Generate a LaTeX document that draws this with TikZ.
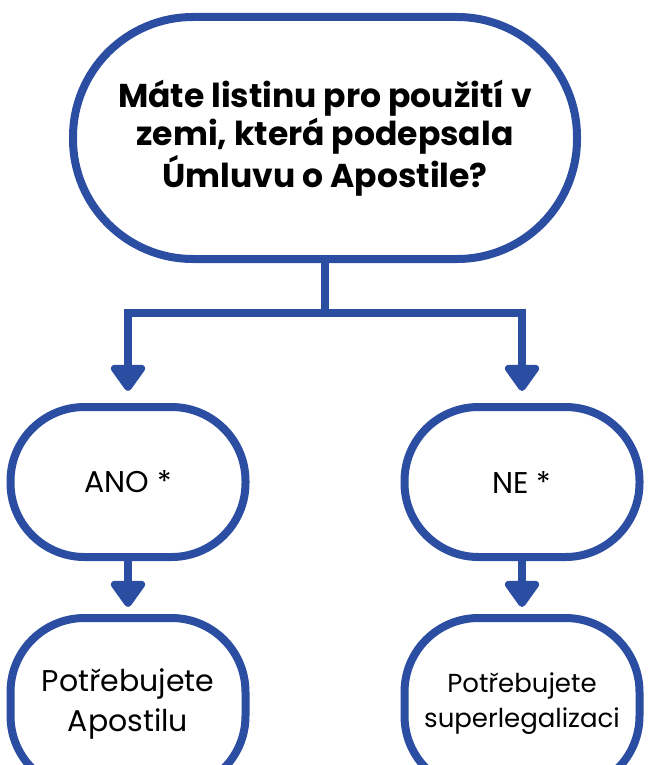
\documentclass[tikz,border=0pt]{standalone}
\usepackage{fontspec}
\setmainfont{Poppins}
\usetikzlibrary{arrows.meta}
\definecolor{apoblue}{HTML}{2B4EA2}
\tikzset{
  forkarrow/.style={-{Triangle[width=39pt,length=29pt,round]}},
}

\begin{document}
\begin{tikzpicture}[x=1pt, y=1pt, line width=8pt,
    every node/.style={draw=apoblue, fill=white, align=center, rectangle, rounded corners=74pt, inner sep=0pt},
    edge from parent/.style={draw=apoblue, forkarrow},
    question/.style={minimum width=504pt, minimum height=242pt, rounded corners=120pt, font=\bfseries\fontsize{33}{37.5}\selectfont},
    answer/.style={minimum width=235pt, minimum height=150pt, font=\fontsize{30}{40}\selectfont},
    result/.style={minimum width=235pt, minimum height=172pt, font=\fontsize{30}{40}\selectfont},
    level 1/.style={sibling distance=394pt, level distance=344pt,
      edge from parent/.append style={shorten >=12pt},
      edge from parent path={(\tikzparentnode.south) -- ++(0,-50) -| (\tikzchildnode.north)}},
    level 2/.style={level distance=222pt,
      edge from parent/.append style={shorten >=7pt},
      edge from parent path={(\tikzparentnode.south) -- (\tikzchildnode.north)}},
  ]
  \clip (0,0) rectangle (648,-765);
  \node[question] (q) at (325,-138) {Máte listinu pro použití v\\zemi, která podepsala\\Úmluvu o Apostile?}
    child {node[answer] (ano) {ANO *}
      child {node[result] (apo) {Potřebujete\\Apostilu}}
    }
    child {node[answer] (ne) {NE *}
      child {node[result, font=\fontsize{26}{35}\selectfont] (sup) {Potřebujete\\superlegalizaci}}
    };
\end{tikzpicture}
\end{document}
